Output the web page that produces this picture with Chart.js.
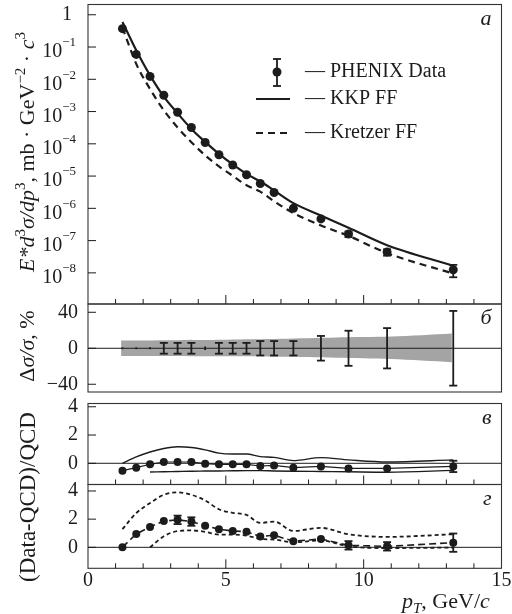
<!DOCTYPE html>
<html lang="ru">
<head>
<meta charset="UTF-8">
<title>PHENIX π0 spectrum vs NLO QCD</title>
<script src="https://cdn.jsdelivr.net/npm/chart.js"></script>
<style>
  body { margin: 0; background: #fff; }
  #wrap { position: relative; width: 512px; height: 614px; }
  #wrap canvas { position: absolute; left: 0; top: 0; }
</style>
</head>
<body>
<div id="wrap">
  <canvas id="chartA" width="512" height="614"></canvas>
  <canvas id="chartB" width="512" height="614"></canvas>
  <canvas id="chartC" width="512" height="614"></canvas>
  <canvas id="chartD" width="512" height="614"></canvas>
</div>
<script>
// ---- data ----
const pT = [1.25, 1.75, 2.25, 2.75, 3.25, 3.75, 4.25, 4.75, 5.25, 5.75, 6.25, 6.75, 7.45, 8.45, 9.45, 10.85, 13.25];
const phenix = [0.37, 0.059, 0.0123, 3.2e-3, 9.5e-4, 3.2e-4, 1.1e-4, 4.6e-5, 2.2e-5, 1.1e-5, 5.9e-6, 3.1e-6, 1.0e-6, 4.7e-7, 1.6e-7, 4.4e-8, 1.25e-8];
const kkpFF = [0.60, 0.079, 0.0132, 2.9e-3, 8.8e-4, 2.9e-4, 1.15e-4, 4.9e-5, 2.3e-5, 1.17e-5, 6.8e-6, 3.6e-6, 1.45e-6, 6.0e-7, 2.5e-7, 7.2e-8, 1.66e-8];
const kretzerFF = [0.40, 0.030, 5.0e-3, 1.1e-3, 3.2e-4, 1.12e-4, 4.4e-5, 2.0e-5, 1.02e-5, 5.2e-6, 3.3e-6, 1.66e-6, 7.1e-7, 2.95e-7, 1.4e-7, 4.1e-8, 9.5e-9];

// relative errors, %
const relErr = [1, 1, 1, 6, 6, 6, 2, 6, 6, 6, 8, 8, 8, 13.7, 19.5, 22.4, 41.5];
const bandX = [1.2, 3, 5, 7, 9, 11, 13.2];
const bandHi = [8.5, 9, 9.5, 10.5, 12, 13, 16.5];
const bandLo = [-8.5, -8.5, -9, -9.5, -10.5, -12, -15.5];

// (Data-QCD)/QCD, KKP
const devKKP = [-0.52, -0.31, -0.07, 0.09, 0.09, 0.09, -0.03, -0.07, -0.07, -0.07, -0.19, -0.15, -0.31, -0.22, -0.36, -0.36, -0.22];
const devKKPErr = [0.05, 0.05, 0.05, 0.05, 0.05, 0.05, 0.05, 0.05, 0.05, 0.05, 0.05, 0.05, 0.05, 0.08, 0.1, 0.1, 0.4];
const kkpHi = [0.0, 0.45, 0.8, 1.05, 1.17, 1.12, 0.95, 0.72, 0.66, 0.66, 0.47, 0.42, 0.19, 0.4, 0.24, 0.09, 0.24];
const kkpLo = [null, null, -0.62, -0.6, -0.58, -0.56, -0.55, -0.54, -0.53, -0.52, -0.52, -0.54, -0.56, -0.58, -0.6, -0.63, -0.5];

// (Data-QCD)/QCD, Kretzer
const devKretzer = [0.0, 0.95, 1.45, 1.86, 1.95, 1.83, 1.54, 1.29, 1.16, 1.11, 0.76, 0.86, 0.43, 0.59, 0.14, 0.07, 0.33];
const devKretzerErr = [0.05, 0.05, 0.05, 0.1, 0.3, 0.3, 0.1, 0.1, 0.1, 0.1, 0.1, 0.1, 0.1, 0.1, 0.3, 0.3, 0.65];
const kretzerHi = [1.29, 2.43, 3.14, 3.73, 3.9, 3.73, 3.33, 2.7, 2.45, 2.3, 1.73, 1.83, 1.16, 1.38, 0.93, 0.74, 0.93];
const kretzerLo = [null, null, 0, 0.79, 1.15, 1.2, 1.1, 0.9, 0.9, 0.83, 0.6, 0.55, 0.36, 0.48, 0.07, -0.05, -0.02];

// ticks
const decades = [0, -1, -2, -3, -4, -5, -6, -7, -8];
const sigmaTicks = [-40, -20, 0, 20, 40];
const sigmaLabels = ['−40', '', '0', '', '40'];
const devTicks = [0, 2, 4];
const xLabelTicks = [0, 5, 10, 15];

const ink = '#1c1c1c';
const serif = '"Liberation Serif", "Times New Roman", serif';

function xy(xs, ys) {
  return xs.map((x, i) => ({ x, y: ys[i] })).filter(p => p.y !== null);
}

function line(ctx, x1, y1, x2, y2) {
  ctx.beginPath(); ctx.moveTo(x1, y1); ctx.lineTo(x2, y2); ctx.stroke();
}

// text with italic / superscript / subscript pieces
function richText(ctx, parts, x, y, size, opts) {
  opts = opts || {};
  ctx.save();
  ctx.translate(x, y);
  if (opts.rotate) ctx.rotate(-Math.PI / 2);
  const fontOf = p => (p.i ? 'italic ' : '') + Math.round((p.s || p.b) ? size * 0.66 : size) + 'px ' + serif;
  let w = 0;
  parts.forEach(p => { ctx.font = fontOf(p); p.w = ctx.measureText(p.t).width; w += p.w; });
  let cx = opts.left ? 0 : -w / 2;
  ctx.fillStyle = ink;
  ctx.textAlign = 'left';
  ctx.textBaseline = 'alphabetic';
  parts.forEach(p => {
    ctx.font = fontOf(p);
    const dy = p.s ? -size * 0.4 : p.b ? size * 0.22 : 0;
    ctx.fillText(p.t, cx, size * 0.33 + dy);
    cx += p.w;
  });
  ctx.restore();
}

// frame, inward ticks, zero line, panel letter, error bars
const panelDeco = {
  id: 'panelDeco',
  afterDatasetsDraw(chart, args, o) {
    const { ctx, chartArea: a, scales: { x, y } } = chart;
    ctx.save();
    ctx.strokeStyle = ink;
    ctx.lineWidth = 1;
    if (o.zeroLine) {
      const py = y.getPixelForValue(0);
      line(ctx, a.left, py, a.right, py);
    }
    // error bars
    (o.errors || []).forEach(e => {
      const meta = chart.getDatasetMeta(e.ds);
      const data = chart.data.datasets[e.ds].data;
      ctx.lineWidth = 1.8;
      meta.data.forEach((pt, i) => {
        const v = data[i].y, d = e.err[i];
        const hi = e.rel ? v * (1 + d / 100) : v + d;
        const lo = e.rel ? v * (1 - d / 100) : v - d;
        const y1 = y.getPixelForValue(hi), y2 = y.getPixelForValue(lo);
        line(ctx, pt.x, y1, pt.x, y2);
        if (Math.abs(y2 - y1) > 4) {
          line(ctx, pt.x - 4, y1, pt.x + 4, y1);
          line(ctx, pt.x - 4, y2, pt.x + 4, y2);
        }
      });
    });
    ctx.lineWidth = 1.1;
    ctx.strokeStyle = '#333';
    ctx.strokeRect(a.left, a.top, a.right - a.left, a.bottom - a.top);
    ctx.strokeStyle = ink;
    ctx.lineWidth = 1;
    y.ticks.forEach(t => {
      const py = y.getPixelForValue(t.value);
      line(ctx, a.left, py, a.left + 8, py);
    });
    if (o.xTicks) {
      for (let v = 1; v < 15; v++) {
        const px = x.getPixelForValue(v);
        line(ctx, px, a.bottom, px, a.bottom - (v % 5 === 0 ? 9 : 5));
      }
    }
    if (o.letter) {
      ctx.fillStyle = ink;
      ctx.font = 'italic 22px ' + serif;
      ctx.textAlign = 'right';
      ctx.textBaseline = 'alphabetic';
      ctx.fillText(o.letter, a.right - 10, a.top + 20);
    }
    ctx.restore();
  }
};
Chart.register(panelDeco);

function baseOptions(pad, yScale, deco) {
  return {
    responsive: false,
    animation: false,
    events: [],
    layout: { padding: pad },
    plugins: { legend: { display: false }, tooltip: { enabled: false }, panelDeco: deco },
    scales: {
      x: {
        type: 'linear', min: 0, max: 15, display: false,
        afterFit: s => { s.paddingLeft = 0; s.paddingRight = 0; }
      },
      y: Object.assign({
        grid: { display: false, drawTicks: false },
        border: { display: false },
        afterFit: s => { s.width = 88; s.paddingTop = 0; s.paddingBottom = 0; }
      }, yScale)
    }
  };
}

const padRight = 10.5;

// ---- panel a: cross sections ----
new Chart(document.getElementById('chartA'), {
  type: 'line',
  data: {
    datasets: [
      { data: xy(pT, kkpFF), borderColor: ink, borderWidth: 2.2, pointRadius: 0, cubicInterpolationMode: 'monotone' },
      { data: xy(pT, kretzerFF), borderColor: ink, borderWidth: 2.2, borderDash: [7, 5], pointRadius: 0, cubicInterpolationMode: 'monotone' },
      { data: xy(pT, phenix), showLine: false, pointRadius: 4.5, pointBackgroundColor: ink, pointBorderColor: ink, pointBorderWidth: 0 }
    ]
  },
  options: baseOptions({ left: 0, right: padRight, top: 3, bottom: 310 }, {
    type: 'logarithmic', min: Math.pow(10, -8.965), max: Math.pow(10, 0.318),
    ticks: { display: false },
    afterBuildTicks: s => { s.ticks = decades.map(e => ({ value: Math.pow(10, e) })); }
  }, { xTicks: true, letter: 'а', errors: [{ ds: 2, err: relErr, rel: true }] }),
  plugins: [{
    id: 'topText',
    afterDraw(chart) {
      const { ctx, scales: { y } } = chart;
      ctx.save();
      ctx.fillStyle = ink;
      ctx.textBaseline = 'middle';
      decades.forEach(e => {
        const py = y.getPixelForValue(Math.pow(10, e));
        if (e === 0) {
          ctx.font = '20px ' + serif; ctx.textAlign = 'right';
          ctx.fillText('1', 72, py);
          return;
        }
        ctx.font = '13px ' + serif;
        const sup = '−' + (-e);
        const sw = ctx.measureText(sup).width;
        ctx.textAlign = 'left';
        ctx.fillText(sup, 76 - sw, py - 4);
        ctx.font = '20px ' + serif;
        ctx.textAlign = 'right';
        ctx.fillText('10', 76 - sw, py + 5);
      });
      // legend
      ctx.strokeStyle = ink;
      ctx.lineWidth = 1.8;
      line(ctx, 277, 59, 277, 86);
      line(ctx, 273, 59, 281, 59);
      line(ctx, 273, 86, 281, 86);
      ctx.beginPath(); ctx.arc(277, 72, 4.5, 0, Math.PI * 2); ctx.fill();
      ctx.lineWidth = 2.2;
      line(ctx, 256, 99, 290, 99);
      ctx.setLineDash([7, 5]);
      line(ctx, 256, 133, 290, 133);
      ctx.setLineDash([]);
      ctx.font = '20px ' + serif;
      ctx.textAlign = 'left';
      ctx.fillText('— PHENIX Data', 305, 72);
      ctx.fillText('— KKP FF', 305, 99);
      ctx.fillText('— Kretzer FF', 305, 133);
      ctx.restore();
      richText(ctx, [
        { t: 'E*d', i: 1 }, { t: '3', s: 1 }, { t: 'σ/dp', i: 1 }, { t: '3', s: 1 },
        { t: ', mb · GeV' }, { t: '−2', s: 1 }, { t: ' · ' }, { t: 'c', i: 1 }, { t: '3', s: 1 }
      ], 27, 152, 22, { rotate: true });
    }
  }]
});

// ---- panel б: relative errors ----
new Chart(document.getElementById('chartB'), {
  type: 'line',
  data: {
    datasets: [
      { data: xy(bandX, bandHi), borderWidth: 0, pointRadius: 0, fill: '+1', backgroundColor: '#a4a4a4', tension: 0.3 },
      { data: xy(bandX, bandLo), borderWidth: 0, pointRadius: 0, fill: false, tension: 0.3 },
      { data: xy(pT, pT.map(() => 0)), showLine: false, pointRadius: 0 }
    ]
  },
  options: baseOptions({ left: 0, right: padRight, top: 304, bottom: 222 }, {
    type: 'linear', min: -48.6, max: 49.2,
    afterBuildTicks: s => { s.ticks = sigmaTicks.map(v => ({ value: v })); },
    ticks: {
      padding: 10, color: ink, font: { family: serif, size: 20 },
      callback: (v, i) => sigmaLabels[i]
    }
  }, { zeroLine: true, letter: 'б', errors: [{ ds: 2, err: relErr, rel: false }] }),
  plugins: [{
    id: 'bTitle',
    afterDraw(chart) {
      richText(chart.ctx, [{ t: 'Δ' }, { t: 'σ/σ', i: 1 }, { t: ', %' }], 27, 346, 22, { rotate: true });
    }
  }]
});

// ---- panel в: deviation from KKP ----
new Chart(document.getElementById('chartC'), {
  type: 'line',
  data: {
    datasets: [
      { data: xy(pT, kkpHi), borderColor: ink, borderWidth: 1.4, pointRadius: 0, cubicInterpolationMode: 'monotone' },
      { data: xy(pT, kkpLo), borderColor: ink, borderWidth: 1.4, pointRadius: 0, cubicInterpolationMode: 'monotone' },
      { data: xy(pT, devKKP), borderColor: ink, borderWidth: 1.2, pointRadius: 4, pointBackgroundColor: ink, pointBorderWidth: 0 }
    ]
  },
  options: baseOptions({ left: 0, right: padRight, top: 403.5, bottom: 129.5 }, {
    type: 'linear', min: -1.5, max: 4.23,
    afterBuildTicks: s => { s.ticks = devTicks.map(v => ({ value: v })); },
    ticks: { padding: 10, color: ink, font: { family: serif, size: 20 } }
  }, { zeroLine: true, xTicks: true, letter: 'в', errors: [{ ds: 2, err: devKKPErr, rel: false }] }),
  plugins: [{
    id: 'cTitle',
    afterDraw(chart) {
      richText(chart.ctx, [{ t: '(Data-QCD)/QCD' }], 27, 497, 23, { rotate: true });
    }
  }]
});

// ---- panel г: deviation from Kretzer ----
new Chart(document.getElementById('chartD'), {
  type: 'line',
  data: {
    datasets: [
      { data: xy(pT, kretzerHi), borderColor: ink, borderWidth: 1.8, borderDash: [4, 3], pointRadius: 0, cubicInterpolationMode: 'monotone' },
      { data: xy(pT, kretzerLo), borderColor: ink, borderWidth: 1.8, borderDash: [4, 3], pointRadius: 0, cubicInterpolationMode: 'monotone' },
      { data: xy(pT, devKretzer), borderColor: ink, borderWidth: 1.6, borderDash: [7, 4], pointRadius: 4, pointBackgroundColor: ink, pointBorderWidth: 0 }
    ]
  },
  options: (() => {
    const o = baseOptions({ left: 0, right: padRight, top: 484.5, bottom: 15.7 }, {
      type: 'linear', min: -1.49, max: 4.46,
      afterBuildTicks: s => { s.ticks = devTicks.map(v => ({ value: v })); },
      ticks: { padding: 10, color: ink, font: { family: serif, size: 20 } }
    }, { zeroLine: true, xTicks: true, letter: 'г', errors: [{ ds: 2, err: devKretzerErr, rel: false }] });
    o.scales.x = {
      type: 'linear', min: 0, max: 15, position: 'bottom',
      grid: { display: false, drawTicks: false },
      border: { display: false },
      afterBuildTicks: s => { s.ticks = xLabelTicks.map(v => ({ value: v })); },
      ticks: { padding: 0, color: ink, maxRotation: 0, autoSkip: false, font: { family: serif, size: 20 } },
      afterFit: s => { s.height = 30; s.paddingLeft = 0; s.paddingRight = 0; }
    };
    return o;
  })(),
  plugins: [{
    id: 'dTitle',
    afterDraw(chart) {
      richText(chart.ctx, [{ t: 'p', i: 1 }, { t: 'T', i: 1, b: 1 }, { t: ', GeV/' }, { t: 'c', i: 1 }], 402, 601, 22, { left: true });
    }
  }]
});
</script>
</body>
</html>
